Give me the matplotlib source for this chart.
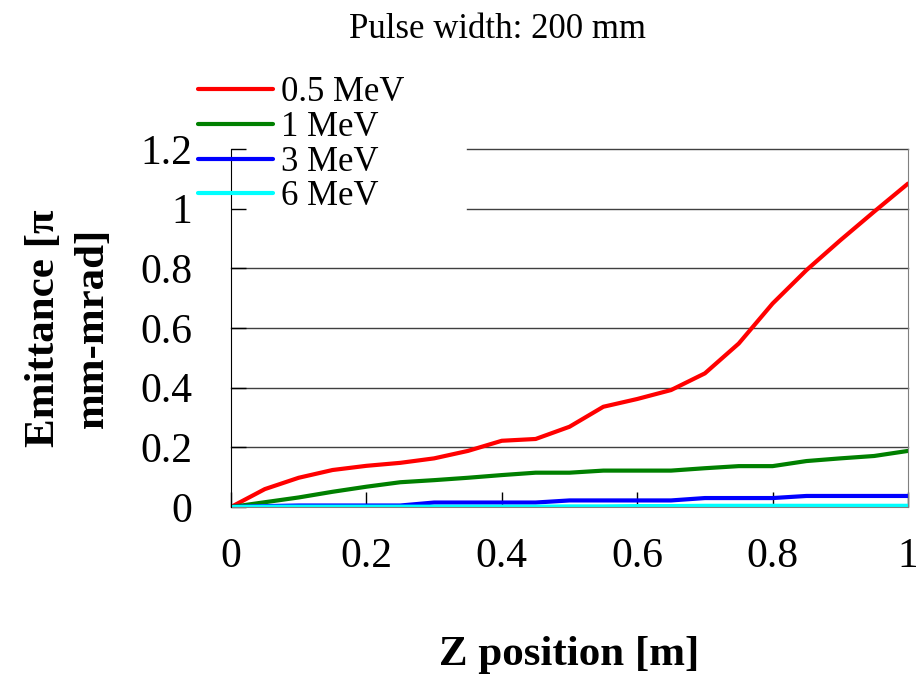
import matplotlib
matplotlib.use("Agg")
import matplotlib.pyplot as plt

plt.rcParams['font.family'] = ['Liberation Serif', 'DejaVu Serif']

# Z position [m]
z_pos = [0, 0.05, 0.1, 0.15, 0.2, 0.25, 0.3, 0.35, 0.4, 0.45, 0.5,
         0.55, 0.6, 0.65, 0.7, 0.75, 0.8, 0.85, 0.9, 0.95, 1.0]

# emittance for each beam energy
emit_05 = [0, 0.06, 0.098, 0.124, 0.138, 0.148, 0.163, 0.188, 0.222, 0.228, 0.269,
           0.336, 0.362, 0.392, 0.448, 0.548, 0.682, 0.794, 0.894, 0.99, 1.084]
emit_1 = [0, 0.016, 0.032, 0.051, 0.068, 0.083, 0.09, 0.098, 0.107, 0.115, 0.115,
          0.122, 0.122, 0.122, 0.13, 0.137, 0.137, 0.154, 0.163, 0.171, 0.188]
emit_3 = [0, 0.003, 0.005, 0.005, 0.005, 0.005, 0.015, 0.015, 0.015, 0.015, 0.022,
          0.022, 0.022, 0.022, 0.03, 0.03, 0.03, 0.037, 0.037, 0.037, 0.037]
emit_6 = [0, 0.001, 0.001, 0.001, 0.001, 0.001, 0.001, 0.001, 0.001, 0.001, 0.002,
          0.002, 0.003, 0.003, 0.004, 0.004, 0.004, 0.004, 0.004, 0.004, 0.004]

labels = ['0.5 MeV', '1 MeV', '3 MeV', '6 MeV']
colors = ['#ff0000', '#008000', '#0000ff', '#00ffff']

y_ticks = [0, 0.2, 0.4, 0.6, 0.8, 1.0, 1.2]
y_ticklabels = ['0', '0.2', '0.4', '0.6', '0.8', '1', '1.2']
x_ticks = [0, 0.2, 0.4, 0.6, 0.8, 1]
x_ticklabels = ['0', '0.2', '0.4', '0.6', '0.8', '1']

fig = plt.figure(figsize=(9.16, 6.77), dpi=100)
ax = fig.add_axes([231 / 916, 1 - 507 / 677, 677 / 916, 358 / 677])

# grid lines; the upper two are hidden behind the legend on the left
legend_edge = (467 - 231) / 677
for yv in y_ticks[1:]:
    x0 = legend_edge if yv >= 1.0 else 0
    ax.plot([x0, 1], [yv, yv], color='#404040', lw=1, zorder=0.5, clip_on=False)

for ys, lab, col in zip([emit_05, emit_1, emit_3, emit_6], labels, colors):
    ax.plot(z_pos, ys, color=col, lw=3, label=lab, solid_capstyle='round')

ax.set_xlim(0, 1)
ax.set_ylim(0, 1.2)
ax.set_xticks(x_ticks)
ax.set_xticklabels(x_ticklabels)
ax.set_yticks(y_ticks)
ax.set_yticklabels(y_ticklabels)
ax.tick_params(direction='in', length=11, width=1, labelsize=30, colors='black')
ax.tick_params(axis='x', pad=22)
ax.tick_params(axis='y', pad=28)

ax.spines['top'].set_visible(False)
ax.spines['right'].set_color('#808080')
ax.spines['left'].set_color('black')
ax.spines['left'].set_zorder(5)
ax.spines['bottom'].set_color('#808080')

ax.set_xlabel('Z position [m]', fontsize=31, fontweight='bold', labelpad=43)
ax.set_ylabel('Emittance [π\nmm-mrad]', fontsize=31, fontweight='bold',
              labelpad=20, linespacing=1.4)
fig.text(0.543, 0.957, 'Pulse width: 200 mm', fontsize=25, ha='center', va='center')

leg = ax.legend(loc='upper left', bbox_to_anchor=(-0.054, 1.213), frameon=False,
                fontsize=25, handlelength=2.15, handletextpad=0.25, labelspacing=0.05,
                borderpad=0.1, borderaxespad=0)

fig.savefig('out.png', dpi=100)
